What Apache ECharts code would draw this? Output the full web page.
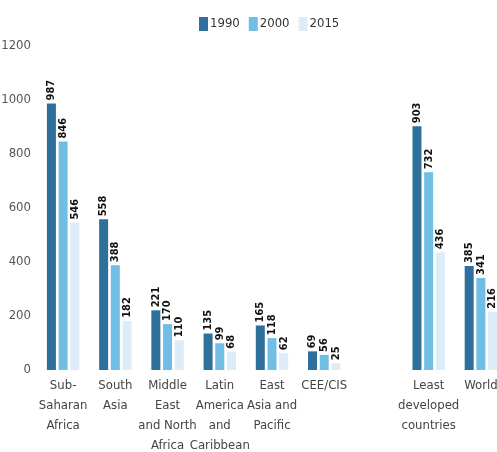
<!DOCTYPE html>
<html><head><meta charset="utf-8">
<script src="https://cdn.jsdelivr.net/npm/echarts@6/dist/echarts.min.js"></script>
<style>html,body{margin:0;padding:0;background:#fff;overflow:hidden;width:497px;height:452px}#c{width:510px;height:452px}</style>
</head><body><div id="c"></div>
<script>
var categories = ["Sub-\nSaharan\nAfrica","South\nAsia","Middle\nEast\nand North\nAfrica","Latin\nAmerica\nand\nCaribbean","East\nAsia and\nPacific","CEE/CIS","","Least\ndeveloped\ncountries","World"];
var seriesNames = ["1990","2000","2015"];
var v1990 = [987,558,221,135,165,69,null,903,385];
var v2000 = [846,388,170,99,118,56,null,732,341];
var v2015 = [546,182,110,68,62,25,null,436,216];
var yTicks = [0,200,400,600,800,1000,1200];
var colors = ["#2e6f9b","#70bde6","#dcedf9"];
var FONT = "'Liberation Sans Narrow','DejaVu Sans Condensed','Roboto',sans-serif";
var chart = echarts.init(document.getElementById('c'));
function mk(name, data, i){
  return {name:name,type:'bar',data:data,barWidth:9,barGap:'30%',
    itemStyle:{color:colors[i]},
    label:{show:true,position:'top',rotate:90,align:'left',verticalAlign:'middle',distance:3,
      color:'#111',fontWeight:'bold',fontSize:11,fontFamily:"'DejaVu Sans Condensed','DejaVu Sans',sans-serif"}};
}
chart.setOption({
  animation:false,
  textStyle:{fontFamily:FONT},
  legend:{top:12,left:194,itemWidth:9,itemHeight:14,itemGap:9,icon:'rect',
    textStyle:{fontFamily:FONT,fontSize:13,color:'#333',padding:[0,0,0,-3]},
    data:seriesNames},
  grid:{left:37,right:3,top:46,bottom:82,containLabel:false,outerBoundsMode:'none'},
  xAxis:{type:'category',data:categories,axisLine:{show:false},axisTick:{show:false},
    axisLabel:{interval:0,margin:6,fontFamily:FONT,fontSize:13,lineHeight:20,color:'#444',verticalAlign:'top'}},
  yAxis:{type:'value',min:yTicks[0],max:yTicks[yTicks.length-1],interval:200,
    splitLine:{show:false},axisLine:{show:false},axisTick:{show:false},
    axisLabel:{margin:6,fontFamily:FONT,fontSize:13,color:'#555',formatter:function(v){return String(v);}}},
  series:[mk(seriesNames[0],v1990,0),mk(seriesNames[1],v2000,1),mk(seriesNames[2],v2015,2)]
});
</script></body></html>
